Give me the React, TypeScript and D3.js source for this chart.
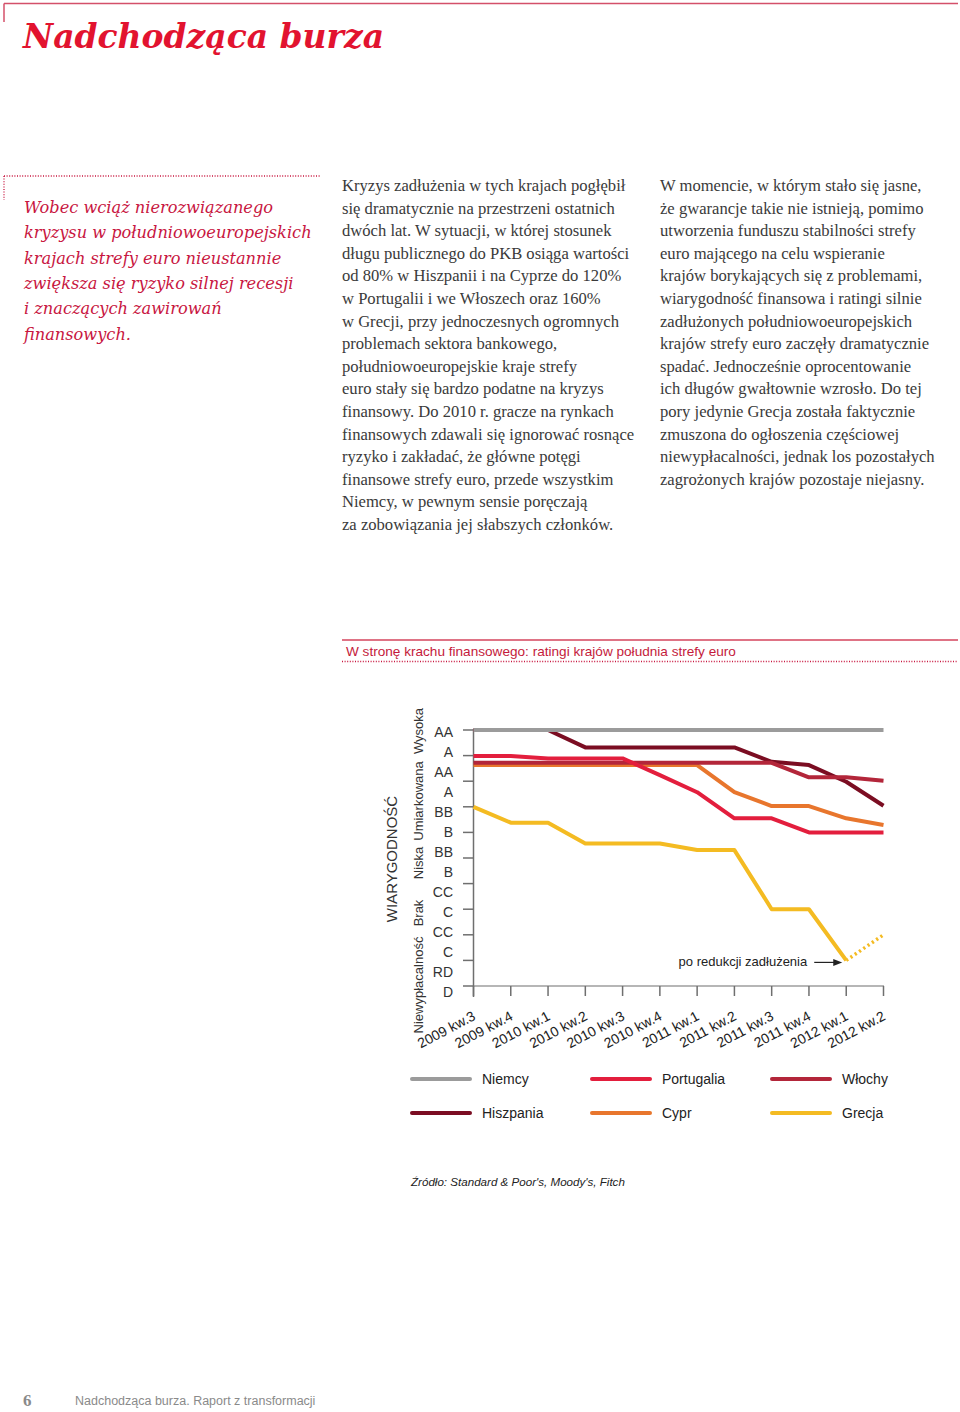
import React from "react";
import * as d3 from "d3";

// ---------- DATA ----------
const quarters = [
  "2009 kw.3", "2009 kw.4", "2010 kw.1", "2010 kw.2", "2010 kw.3", "2010 kw.4",
  "2011 kw.1", "2011 kw.2", "2011 kw.3", "2011 kw.4", "2012 kw.1", "2012 kw.2",
];
const ratingLabels = ["AA", "A", "AA", "A", "BB", "B", "BB", "B", "CC", "C", "CC", "C", "RD", "D"];
const creditBands = ["Wysoka", "Umiarkowana", "Niska", "Brak", "Niewypłacalność"];
const ratingTicks = [0, 1, 2, 3, 4, 5, 6, 7, 8, 9, 10];

const niemcy = [10, 10, 10, 10, 10, 10, 10, 10, 10, 10, 10, 10];
const hiszpania = [10, 10, 10, 9.32, 9.32, 9.32, 9.32, 9.32, 8.76, 8.63, 7.98, 7.04];
const cypr = [8.63, 8.63, 8.63, 8.63, 8.63, 8.63, 8.63, 7.57, 7.03, 7.03, 6.55, 6.29];
const wlochy = [8.72, 8.72, 8.72, 8.72, 8.72, 8.72, 8.72, 8.72, 8.72, 8.15, 8.15, 8.02];
const portugalia = [8.98, 8.98, 8.89, 8.89, 8.89, 8.24, 7.57, 6.55, 6.55, 6.0, 6.0, 6.0];
const grecja = [7.0, 6.38, 6.38, 5.57, 5.57, 5.57, 5.31, 5.31, 3.0, 3.0, 1.0, 2.0];

const seriesNames = ["Niemcy", "Portugalia", "Włochy", "Hiszpania", "Cypr", "Grecja"];
const seriesColors = ["#9b9b9b", "#e31e3d", "#b3263a", "#7b0d22", "#e8762d", "#f4bb22"];

const column2 = [
  "Kryzys zadłużenia w tych krajach pogłębił",
  "się dramatycznie na przestrzeni ostatnich",
  "dwóch lat. W sytuacji, w której stosunek",
  "długu publicznego do PKB osiąga wartości",
  "od 80% w Hiszpanii i na Cyprze do 120%",
  "w Portugalii i we Włoszech oraz 160%",
  "w Grecji, przy jednoczesnych ogromnych",
  "problemach sektora bankowego,",
  "południowoeuropejskie kraje strefy",
  "euro stały się bardzo podatne na kryzys",
  "finansowy. Do 2010 r. gracze na rynkach",
  "finansowych zdawali się ignorować rosnące",
  "ryzyko i zakładać, że główne potęgi",
  "finansowe strefy euro, przede wszystkim",
  "Niemcy, w pewnym sensie poręczają",
  "za zobowiązania jej słabszych członków.",
];
const column3 = [
  "W momencie, w którym stało się jasne,",
  "że gwarancje takie nie istnieją, pomimo",
  "utworzenia funduszu stabilności strefy",
  "euro mającego na celu wspieranie",
  "krajów borykających się z problemami,",
  "wiarygodność finansowa i ratingi silnie",
  "zadłużonych południowoeuropejskich",
  "krajów strefy euro zaczęły dramatycznie",
  "spadać. Jednocześnie oprocentowanie",
  "ich długów gwałtownie wzrosło. Do tej",
  "pory jedynie Grecja została faktycznie",
  "zmuszona do ogłoszenia częściowej",
  "niewypłacalności, jednak los pozostałych",
  "zagrożonych krajów pozostaje niejasny.",
];
const quoteLines = [
  "Wobec wciąż nierozwiązanego",
  "kryzysu w południowoeuropejskich",
  "krajach strefy euro nieustannie",
  "zwiększa się ryzyko silnej recesji",
  "i znaczących zawirowań",
  "finansowych.",
];

// ---------- LAYOUT ----------
const W = 960;
const H = 1412;
const SANS = "'Liberation Sans', Arial, Helvetica, sans-serif";
const SERIF = "'DejaVu Serif', Georgia, serif";
const BODY_SERIF = "'Liberation Serif', 'Times New Roman', serif";

export default function App() {
  const x = d3.scalePoint<string>().domain(quarters).range([473.5, 883.5]);
  const y = d3.scaleLinear().domain([0, 10]).range([986, 730]);
  const labelY = d3.scalePoint<number>().domain(d3.range(ratingLabels.length)).range([732, 992]);

  const allSeries = [niemcy, portugalia, wlochy, hiszpania, cypr, grecja];
  const line = d3
    .line<number>()
    .x((_, i) => x(quarters[i]) as number)
    .y((v) => y(v));

  const drawOrder = [3, 4, 2, 1, 5, 0];

  const bandPos: Record<string, number> = {
    Wysoka: 731,
    Umiarkowana: 801,
    Niska: 863,
    Brak: 913,
    "Niewypłacalność": 985,
  };

  const grSolid = grecja.slice(0, 11);
  const grDot = grecja.slice(10);
  const dotLine = d3
    .line<number>()
    .x((_, i) => x(quarters[i + 10]) as number)
    .y((v) => y(v));

  const annX = (x(quarters[10]) as number) - 4;
  const annY = y(grecja[10]) + 2;

  const legendCols = [412, 592, 772];
  const legendRows = [1079, 1113];

  return (
    <svg
      width={W}
      height={H}
      viewBox={`0 0 ${W} ${H}`}
      style={{ position: "absolute", left: 0, top: 0, background: "#fff" }}
    >
      {/* top frame */}
      <line x1={4} y1={3.5} x2={958} y2={3.5} stroke="#d4506a" strokeWidth={1.5} />
      <line x1={4} y1={3.5} x2={4} y2={22} stroke="#d4506a" strokeWidth={1.5} />

      {/* page title */}
      <text
        x={23}
        y={48}
        fontFamily={SERIF}
        fontWeight="bold"
        fontStyle="italic"
        fontSize={33}
        fill="#e2132f"
        textLength={361}
        lengthAdjust="spacingAndGlyphs"
      >
        Nadchodząca burza
      </text>

      {/* quote */}
      <line x1={4} y1={176} x2={321} y2={176} stroke="#c8163f" strokeWidth={1.3} strokeDasharray="1 1.6" />
      <line x1={4} y1={176} x2={4} y2={200} stroke="#c8163f" strokeWidth={1.3} strokeDasharray="1 1.6" />
      {quoteLines.map((t, i) => (
        <text
          key={i}
          x={24}
          y={213 + i * 25.3}
          fontFamily={SERIF}
          fontStyle="italic"
          fontSize={16.2}
          fill="#c8163f"
        >
          {t}
        </text>
      ))}

      {/* body columns */}
      {column2.map((t, i) => (
        <text key={"c2" + i} x={342} y={191 + i * 22.6} fontFamily={BODY_SERIF} fontSize={16.6} fill="#3a3a3a">
          {t}
        </text>
      ))}
      {column3.map((t, i) => (
        <text key={"c3" + i} x={660} y={191 + i * 22.6} fontFamily={BODY_SERIF} fontSize={16.6} fill="#3a3a3a">
          {t}
        </text>
      ))}

      {/* chart header */}
      <line x1={342} y1={640} x2={958} y2={640} stroke="#d4455c" strokeWidth={1.5} />
      <text x={346} y={656} fontFamily={SANS} fontSize={13.6} fill="#c41a3b">
        W stronę krachu finansowego: ratingi krajów południa strefy euro
      </text>
      <line x1={342} y1={661.5} x2={958} y2={661.5} stroke="#c8163f" strokeWidth={1.3} strokeDasharray="1 1.6" />

      {/* y axis title & bands */}
      <text
        transform={`translate(397,859) rotate(-90)`}
        textAnchor="middle"
        fontFamily={SANS}
        fontSize={15}
        fill="#333"
      >
        WIARYGODNOŚĆ
      </text>
      {creditBands.map((b) => (
        <text
          key={b}
          transform={`translate(423,${bandPos[b]}) rotate(-90)`}
          textAnchor="middle"
          fontFamily={SANS}
          fontSize={13}
          fill="#333"
        >
          {b}
        </text>
      ))}

      {/* rating labels */}
      {ratingLabels.map((l, i) => (
        <text
          key={i}
          x={453}
          y={(labelY(i) as number) + 5}
          textAnchor="end"
          fontFamily={SANS}
          fontSize={14}
          fill="#333"
        >
          {l}
        </text>
      ))}

      {/* y axis */}
      <line x1={473.5} y1={729} x2={473.5} y2={997} stroke="#6f6f6f" strokeWidth={1.5} />
      {ratingTicks.map((t) => (
        <line key={t} x1={463} x2={473.5} y1={y(t)} y2={y(t)} stroke="#6f6f6f" strokeWidth={1.5} />
      ))}
      {/* x axis */}
      <line x1={473.5} y1={986} x2={884} y2={986} stroke="#6f6f6f" strokeWidth={1.2} />
      {quarters.map((q) => (
        <g key={q}>
          <line x1={x(q)} x2={x(q)} y1={986} y2={996} stroke="#6f6f6f" strokeWidth={1.5} />
          <text
            transform={`translate(${(x(q) as number) + 3},1019) rotate(-28)`}
            textAnchor="end"
            fontFamily={SANS}
            fontSize={14}
            fill="#222"
          >
            {q}
          </text>
        </g>
      ))}

      {/* series */}
      {drawOrder.map((si) => {
        const data = si === 5 ? grSolid : allSeries[si];
        return (
          <path
            key={seriesNames[si]}
            d={line(data) as string}
            fill="none"
            stroke={seriesColors[si]}
            strokeWidth={4}
            strokeLinejoin="round"
          />
        );
      })}
      <path
        d={dotLine(grDot) as string}
        fill="none"
        stroke={seriesColors[5]}
        strokeWidth={3.5}
        strokeDasharray="2.2 3"
      />

      {/* annotation */}
      <text x={annX - 35} y={annY + 4} textAnchor="end" fontFamily={SANS} fontSize={13} fill="#222">
        po redukcji zadłużenia
      </text>
      <line x1={annX - 28} y1={annY} x2={annX - 8} y2={annY} stroke="#222" strokeWidth={1.2} />
      <path d={`M${annX},${annY} L${annX - 9},${annY - 3.5} L${annX - 9},${annY + 3.5} Z`} fill="#222" />

      {/* legend */}
      {seriesNames.map((n, i) => {
        const cx = legendCols[i % 3];
        const cy = legendRows[Math.floor(i / 3)];
        return (
          <g key={n}>
            <line x1={cx} x2={cx + 58} y1={cy} y2={cy} stroke={seriesColors[i]} strokeWidth={4} strokeLinecap="round" />
            <text x={cx + 70} y={cy + 5} fontFamily={SANS} fontSize={14} fill="#222">
              {n}
            </text>
          </g>
        );
      })}

      {/* source */}
      <text x={411} y={1186} fontFamily={SANS} fontStyle="italic" fontSize={11.6} fill="#222">
        Źródło: Standard &amp; Poor's, Moody's, Fitch
      </text>

      {/* footer */}
      <text x={23} y={1406} fontFamily={BODY_SERIF} fontWeight="bold" fontSize={17} fill="#8a8a8a">
        6
      </text>
      <text x={75} y={1405} fontFamily={SANS} fontSize={12.5} fill="#8a8a8a">
        Nadchodząca burza. Raport z transformacji
      </text>
    </svg>
  );
}
